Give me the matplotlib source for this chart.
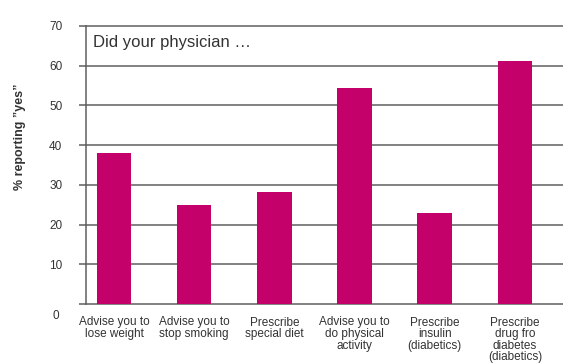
import matplotlib.pyplot as plt
from matplotlib.transforms import offset_copy

categories = [
    'Advise you to\nlose weight',
    'Advise you to\nstop smoking',
    'Prescribe\nspecial diet',
    'Advise you to\ndo physical\nactivity',
    'Prescribe\ninsulin\n(diabetics)',
    'Prescribe\ndrug fro\ndiabetes\n(diabetics)',
]
pct_yes = [38, 25, 28.3, 54.4, 23, 61.2]
y_ticks = [0, 10, 20, 30, 40, 50, 60, 70]

plt.rcParams['font.family'] = ['Liberation Sans', 'DejaVu Sans']
grey = '#5f5f5f'
text_col = '#333333'

fig = plt.figure(figsize=(5.63, 3.63), dpi=100)
ax = fig.add_axes([86 / 563, 59 / 363, 477 / 563, 278 / 363])

x = range(len(categories))
ax.bar(x, pct_yes, width=0.43, color='#c4006a', zorder=3)

ax.set_xlim(-0.35, 5.6)
ax.set_ylim(0, 70)

ax.set_yticks(y_ticks)
ax.set_yticklabels([''] + [str(v) for v in y_ticks[1:]])
ax.tick_params(axis='y', length=5, width=1.1, color=grey, pad=12,
               labelsize=8.5, labelcolor=text_col)
ax.yaxis.grid(True, color=grey, linewidth=1.1, zorder=1)
ax.set_axisbelow(True)
for gl in ax.get_ygridlines():
    gl.set_clip_on(False)

# zero label sits a bit below the baseline
ax.text(-27 / 477, 0, '0', transform=offset_copy(
    ax.get_yaxis_transform(), fig=fig, x=0, y=-12, units='dots'),
    ha='right', va='center', fontsize=8.5, color=text_col)

ax.set_xticks(list(x))
ax.set_xticklabels(categories, fontsize=8.5, color=text_col, linespacing=0.95,
                   va='top')
ax.tick_params(axis='x', length=0, pad=9)

for side in ['top', 'right', 'bottom']:
    ax.spines[side].set_visible(False)
ax.spines['left'].set_color(grey)
ax.spines['left'].set_linewidth(1.1)

ax.text(7 / 477, 1 - 17 / 278, 'Did your physician \u2026', transform=ax.transAxes,
        ha='left', va='center', fontsize=12, color=text_col)

fig.text(20 / 563, 1 - 137 / 363, '% reporting \u201dyes\u201d', rotation=90,
         ha='center', va='center', fontsize=9, fontweight='bold', color=text_col)

fig.savefig('out.png', dpi=100)
